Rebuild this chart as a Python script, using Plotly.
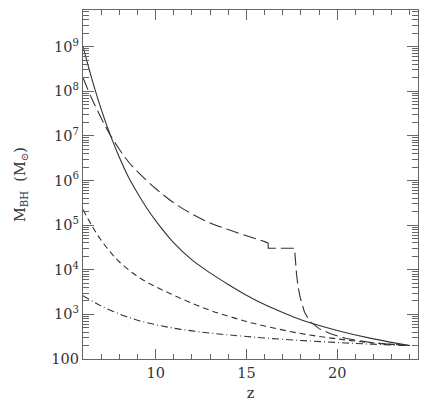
import plotly.graph_objects as go

# Solid curve
z_solid = [6.0, 6.5, 7.0, 7.5, 8.0, 8.5, 9.0, 9.5, 10.0, 11.0, 12.0, 13.0, 14.0, 15.0, 16.0, 17.0, 18.0, 20.0, 22.0, 24.0]
m_solid = [1.0e9, 1.82e8, 3.98e7, 1.05e7, 3.31e6, 1.20e6, 5.25e5, 2.45e5, 1.26e5, 3.98e4, 1.66e4,
           8.51e3, 4.68e3, 2.69e3, 1.66e3, 1.10e3, 7.59e2, 4.37e2, 2.82e2, 2.0e2]

# Long-dashed curve (smooth part, then step and drop)
z_long = [6.0, 6.5, 7.0, 7.5, 8.0, 8.5, 9.0, 10.0, 11.0, 12.0, 13.0, 14.0, 15.0, 16.0, 16.2,
          16.2, 17.65, 17.70, 17.76, 17.85, 17.98, 18.2, 18.5, 19.0, 19.6, 20.5, 22.0, 24.0]
m_long = [2.0e8, 6.61e7, 2.51e7, 1.05e7, 5.01e6, 2.63e6, 1.58e6, 6.61e5, 3.16e5, 1.78e5, 1.12e5,
          7.94e4, 5.75e4, 4.27e4, 3.98e4,
          3.02e4, 3.02e4, 1.58e4, 7.94e3, 3.98e3, 2.24e3, 1.12e3, 6.92e2, 4.79e2, 3.72e2, 2.88e2, 2.29e2, 2.0e2]
long_split = 15  # index where the step begins

# Short-dashed curve
z_short = [6.0, 6.5, 7.0, 7.5, 8.0, 9.0, 10.0, 11.0, 12.0, 13.0, 14.0, 15.0, 16.0, 18.0, 20.0, 22.0, 24.0]
m_short = [2.24e5, 9.55e4, 4.57e4, 2.51e4, 1.51e4, 7.08e3, 4.17e3, 2.69e3, 1.78e3, 1.23e3, 9.12e2,
           6.92e2, 5.50e2, 3.72e2, 2.82e2, 2.29e2, 2.0e2]

# Dash-dotted curve
z_dd = [6.0, 6.5, 7.0, 8.0, 9.0, 10.0, 11.0, 12.0, 13.0, 14.0, 15.0, 16.0, 18.0, 20.0, 22.0, 24.0]
m_dd = [2.63e3, 2.0e3, 1.55e3, 1.02e3, 7.41e2, 5.89e2, 4.90e2, 4.27e2, 3.80e2, 3.47e2, 3.20e2,
        2.95e2, 2.60e2, 2.34e2, 2.14e2, 2.0e2]

x_major = [10, 15, 20]
x_minor = [6, 7, 8, 9, 11, 12, 13, 14, 16, 17, 18, 19, 21, 22, 23, 24]
y_major = [1e2, 1e3, 1e4, 1e5, 1e6, 1e7, 1e8, 1e9]
y_major_text = ["100", "10<sup>3</sup>", "10<sup>4</sup>", "10<sup>5</sup>", "10<sup>6</sup>",
                "10<sup>7</sup>", "10<sup>8</sup>", "10<sup>9</sup>"]
y_minor = [m * 10 ** k for k in range(2, 10) for m in range(2, 10)]

line_col = "#333333"
frame_col = "#666666"
font_family = "DejaVu Serif"

fig = go.Figure()
fig.add_trace(go.Scatter(x=z_solid, y=m_solid, mode="lines",
                         line=dict(color=line_col, width=1.1, shape="spline")))
fig.add_trace(go.Scatter(x=z_long[:long_split], y=m_long[:long_split], mode="lines",
                         line=dict(color=line_col, width=1.1, dash="13px,5px", shape="spline")))
fig.add_trace(go.Scatter(x=z_long[long_split - 1:], y=m_long[long_split - 1:], mode="lines",
                         line=dict(color=line_col, width=1.1, dash="13px,5px")))
fig.add_trace(go.Scatter(x=z_short, y=m_short, mode="lines",
                         line=dict(color=line_col, width=1.1, dash="6px,4px", shape="spline")))
fig.add_trace(go.Scatter(x=z_dd, y=m_dd, mode="lines",
                         line=dict(color=line_col, width=1.1, dash="7px,3px,1px,3px", shape="spline")))

# The page body adds an 8px offset, so the figure is sized to fit inside it.
fig.update_layout(
    width=428, height=398,
    margin=dict(l=75, r=18, t=2, b=47),
    paper_bgcolor="white", plot_bgcolor="white",
    showlegend=False,
    font=dict(family=font_family, size=14.5, color="#333333"),
    xaxis=dict(
        range=[6, 24.45], showgrid=False, zeroline=False, automargin=False,
        showline=True, linecolor=frame_col, linewidth=1.2, mirror="ticks",
        tickmode="array", tickvals=x_major, ticktext=[str(v) for v in x_major],
        ticks="inside", ticklen=10, tickcolor=frame_col, tickwidth=1,
        minor=dict(tickmode="array", tickvals=x_minor, ticks="inside", ticklen=5,
                   tickcolor=frame_col, tickwidth=1),
        title=dict(text="z", standoff=8, font=dict(size=14.5)),
    ),
    yaxis=dict(
        type="log", range=[2, 9.82], showgrid=False, zeroline=False, automargin=False,
        showline=True, linecolor=frame_col, linewidth=1.2, mirror="ticks",
        tickmode="array", tickvals=y_major, ticktext=y_major_text,
        ticks="inside", ticklen=11, tickcolor=frame_col, tickwidth=1,
        minor=dict(tickmode="array", tickvals=y_minor, ticks="inside", ticklen=6,
                   tickcolor=frame_col, tickwidth=1),
        title=dict(text="M<sub>BH</sub>  (M<sub>⊙</sub>)", standoff=22, font=dict(size=14.5)),
    ),
)

fig.write_html("out.html")
